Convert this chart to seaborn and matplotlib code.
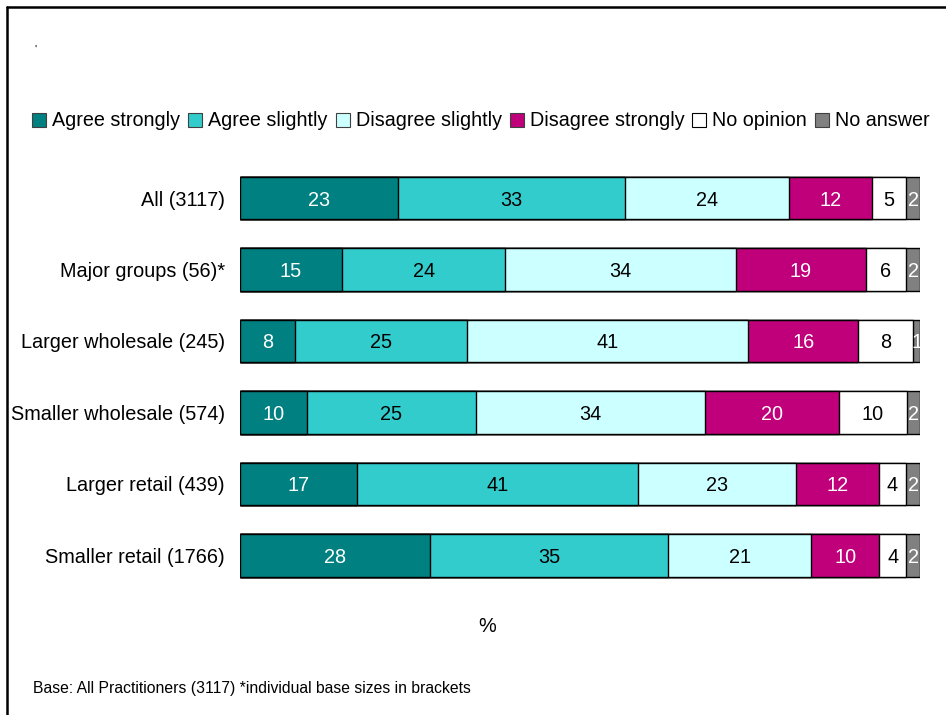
import numpy as np
import pandas as pd
import matplotlib
matplotlib.use("Agg")
import matplotlib.pyplot as plt
from matplotlib.patches import Patch
from matplotlib.lines import Line2D
import seaborn as sns

categories = ["All (3117)", "Major groups (56)*", "Larger wholesale (245)",
              "Smaller wholesale (574)", "Larger retail (439)", "Smaller retail (1766)"]
series = ["Agree strongly", "Agree slightly", "Disagree slightly",
          "Disagree strongly", "No opinion", "No answer"]
agree_strongly = [23, 15, 8, 10, 17, 28]
agree_slightly = [33, 24, 25, 25, 41, 35]
disagree_slightly = [24, 34, 41, 34, 23, 21]
disagree_strongly = [12, 19, 16, 20, 12, 10]
no_opinion = [5, 6, 8, 10, 4, 4]
no_answer = [2, 2, 1, 2, 2, 2]

colors = ["#008080", "#33CCCC", "#CCFFFF", "#C0007A", "#FFFFFF", "#808080"]
text_colors = ["white", "black", "black", "white", "black", "white"]

sns.set_theme(style="white")
plt.rcParams["font.family"] = ["Liberation Sans", "DejaVu Sans"]
plt.rcParams["text.color"] = "black"

vals = np.array([agree_strongly, agree_slightly, disagree_slightly,
                 disagree_strongly, no_opinion, no_answer], dtype=float)
totals = vals.sum(axis=0)
shares = vals / totals * 100.0          # 100% stacked
cum = np.cumsum(shares, axis=0)

fig = plt.figure(figsize=(9.46, 7.15), dpi=100)
ax = fig.add_axes([240 / 946, 1 - 591.25 / 715, 680 / 946, 429 / 715])

for k in range(len(series) - 1, -1, -1):
    df = pd.DataFrame({"cat": categories, "val": cum[k]})
    sns.barplot(data=df, x="val", y="cat", orient="y", order=categories,
                color=colors[k], saturation=1, edgecolor="black",
                linewidth=1.0, width=0.6, ax=ax)

for k in range(len(series)):
    for i in range(len(categories)):
        start = cum[k, i] - shares[k, i]
        ax.text(start + shares[k, i] / 2, i, f"{int(vals[k, i])}",
                ha="center", va="center_baseline", fontsize=14.3, color=text_colors[k],
                clip_on=True)

ax.set_xlim(0, 100)
ax.set_ylim(5.5, -0.5)
ax.set_xlabel("")
ax.set_ylabel("")
ax.set_xticks([])
ax.tick_params(axis="y", length=0, pad=11, labelsize=14.3, labelcolor="black")
for s in ax.spines.values():
    s.set_visible(False)

handles = [Patch(facecolor=c, edgecolor="#404040" if c != "#FFFFFF" else "black",
                 linewidth=0.8) for c in colors]
fig.legend(handles, series, loc="center", bbox_to_anchor=(481 / 946, 1 - 121 / 715),
           ncol=6, frameon=False, fontsize=14.2, handlelength=0.7, handleheight=0.7,
           handletextpad=0.3, columnspacing=0.42, borderaxespad=0)

fig.text(487 / 946, 1 - 626 / 715, "%", ha="center", va="center", fontsize=14.3)
fig.text(33 / 946, 1 - 689 / 715,
         "Base: All Practitioners (3117) *individual base sizes in brackets",
         ha="left", va="center", fontsize=11.35)
fig.text(35 / 946, 1 - 50 / 715, "'", ha="center", va="center", fontsize=8)

fig.add_artist(Line2D([6.5 / 946, 6.5 / 946], [1 - 7 / 715, 0],
                      transform=fig.transFigure, color="black", linewidth=1.8))
fig.add_artist(Line2D([6.5 / 946, 1], [1 - 7 / 715, 1 - 7 / 715],
                      transform=fig.transFigure, color="black", linewidth=1.8))

fig.savefig("out.png", dpi=100)
